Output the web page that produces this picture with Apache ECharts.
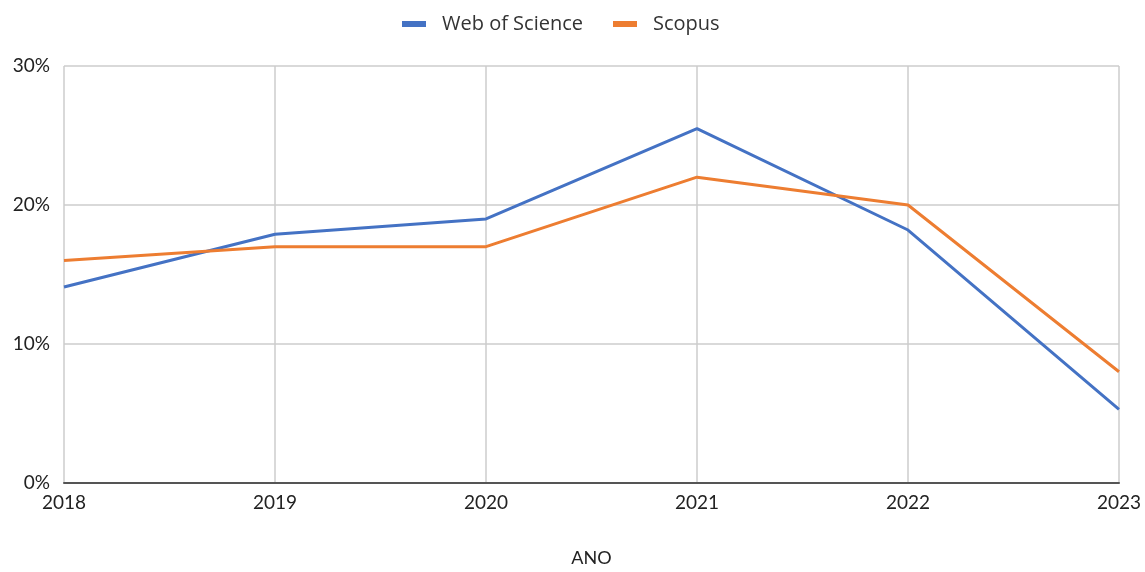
<!DOCTYPE html>
<html><head><meta charset="utf-8">
<script src="https://cdn.jsdelivr.net/npm/echarts@6/dist/echarts.min.js"></script>
<style>html,body{margin:0;padding:0;background:#fff;overflow:hidden}#c{width:1145px;height:572px}</style>
</head><body><div id="c"></div>
<script>
const years = ['2018','2019','2020','2021','2022','2023'];
const webOfScience = [14.1, 17.9, 19.0, 25.5, 18.2, 5.3];
const scopus = [16.0, 17.0, 17.0, 22.0, 20.0, 8.0];
const seriesNames = ['Web of Science', 'Scopus'];
const xAxisTitle = 'ANO';

const chart = echarts.init(document.getElementById('c'));
chart.setOption({
  animation: false,
  textStyle: { fontFamily: 'Lato' },
  color: ['#4472C4', '#ED7D31'],
  legend: {
    top: 9, left: 397,
    icon: 'rect', itemWidth: 24, itemHeight: 6, itemGap: 30,
    textStyle: { fontSize: 20, color: '#333', fontFamily: 'Open Sans', padding: [0, 0, 0, 11] },
    data: seriesNames
  },
  grid: { left: 64, right: 26, top: 66, bottom: 78 },
  xAxis: {
    type: 'category', data: years, boundaryGap: false,
    name: xAxisTitle, nameLocation: 'middle', nameGap: 66,
    nameTextStyle: { fontSize: 18, color: '#222' },
    axisLine: { lineStyle: { color: '#555', width: 2 } },
    axisTick: { show: false },
    axisLabel: { fontSize: 19, color: '#222', margin: 10 },
    splitLine: { show: true, lineStyle: { color: '#ccc', width: 1.5 } }
  },
  yAxis: {
    type: 'value', min: 0, max: 30, interval: 10,
    axisLabel: { formatter: '{value}%', fontSize: 19, color: '#222', margin: 14 },
    axisLine: { show: false }, axisTick: { show: false },
    splitLine: { lineStyle: { color: '#ccc', width: 1.5 } }
  },
  series: [
    { name: seriesNames[0], type: 'line', data: webOfScience, symbol: 'none', lineStyle: { width: 3 } },
    { name: seriesNames[1], type: 'line', data: scopus, symbol: 'none', lineStyle: { width: 3 } }
  ]
});
</script></body></html>
